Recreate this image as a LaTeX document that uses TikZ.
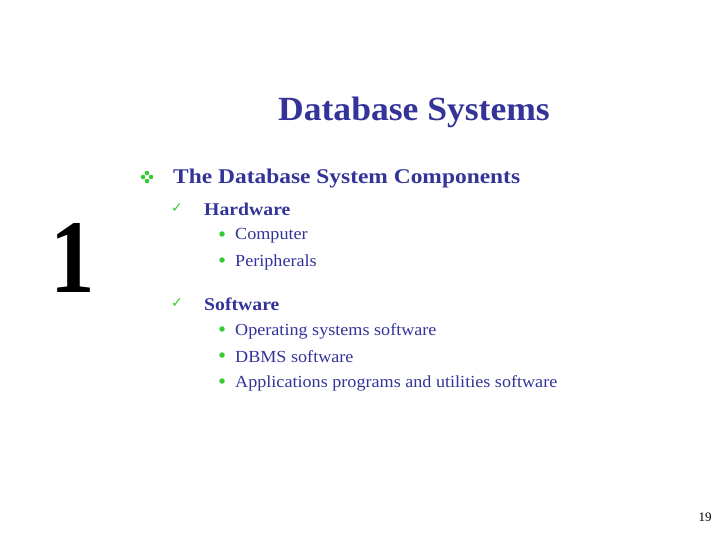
\documentclass[tikz,border=0pt]{standalone}
\usepackage{fontspec}
\setmainfont{Liberation Serif}
\newfontfamily\symfont{DejaVu Sans}
\definecolor{slideblue}{RGB}{51,51,153}
\definecolor{slidegreen}{RGB}{51,204,51}
\begin{document}
\begin{tikzpicture}[x=1bp,y=-1bp,
    every node/.style={inner sep=0pt, anchor=west, text=slideblue},
    level1/.style={font=\fontsize{21}{24}\selectfont\bfseries, xscale=1.12},
    level2/.style={font=\fontsize{18}{21}\selectfont\bfseries, xscale=1.1},
    level3/.style={font=\fontsize{17}{20}\selectfont, xscale=1.07},
    tick/.style={anchor=center, text=slidegreen, font=\symfont\fontsize{14}{16}\selectfont},
    dot/.style={anchor=center, circle, fill=slidegreen, minimum size=5.5bp}]
  \useasboundingbox (0,0) rectangle (720,540);
  \node (title) at (414,112) [anchor=center, xscale=1.05, font=\fontsize{34}{38}\selectfont\bfseries] {Database Systems};
  \node (one) at (73,258) [anchor=center, text=black, xscale=0.85, font=\fontsize{105}{120}\selectfont\bfseries] {1};
  % four-dot bullet
  \foreach \dx/\dy in {-4/0, 4/0, 0/-4, 0/4}
    \fill[slidegreen] (147+\dx,177+\dy) circle (2.3);
  \node (comp) at (173,179) [level1] {The Database System Components};
  \node (tk1) at (177,208) [tick] {✓};
  \node (hw) at (204,209) [level2] {Hardware};
  \node (b1) at (222,234) [dot] {};
  \node (computer) at (235,236) [level3] {Computer};
  \node (b2) at (222,260) [dot] {};
  \node (periph) at (235,262) [level3] {Peripherals};
  \node (tk2) at (177,303) [tick] {✓};
  \node (sw) at (204,304) [level2] {Software};
  \node (b3) at (222,329) [dot] {};
  \node (os) at (235,331) [level3] {Operating systems software};
  \node (b4) at (222,355) [dot] {};
  \node (dbms) at (235,357) [level3] {DBMS software};
  \node (b5) at (222,381) [dot] {};
  \node (apps) at (235,383) [level3] {Applications programs and utilities software};
  \node (page) at (705,517) [anchor=center, text=black, font=\fontsize{13}{15}\selectfont] {19};
\end{tikzpicture}
\end{document}
